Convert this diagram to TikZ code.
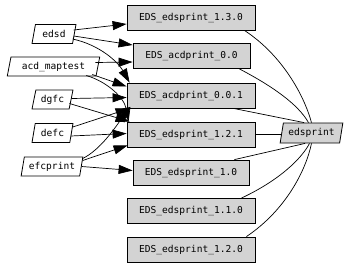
\documentclass[tikz,border=0pt]{standalone}
\usepackage{fontspec}
\setmonofont{DejaVu Sans Mono}
\usetikzlibrary{shapes.geometric,arrows.meta,calc}
\definecolor{boxgray}{RGB}{211,211,211}
\begin{document}
\begin{tikzpicture}[x=1bp,y=-1bp,
  every node/.style={font=\ttfamily\fontsize{9.6}{11}\selectfont, inner sep=0pt},
  pkg/.style={draw=black, fill=boxgray, line width=0.8bp, rectangle, minimum height=25bp},
  src/.style={draw=black, fill=white, line width=0.8bp, trapezium, trapezium left angle=74, trapezium right angle=106, trapezium stretches=true, minimum height=19bp},
  dep/.style={line width=0.7bp, -{Triangle[length=14bp,width=9bp]}},
  lnk/.style={line width=0.7bp}]
\useasboundingbox (0,0) rectangle (352,266);
% package boxes
\node[pkg, minimum width=128bp] (b1) at (191,17.5) {EDS\_edsprint\_1.3.0};
\node[pkg, minimum width=117bp] (b2) at (191.5,56) {EDS\_acdprint\_0.0};
\node[pkg, minimum width=128bp] (b3) at (191,95.5) {EDS\_acdprint\_0.0.1};
\node[pkg, minimum width=128bp] (b4) at (191,134.5) {EDS\_edsprint\_1.2.1};
\node[pkg, minimum width=116bp] (b5) at (191,172.5) {EDS\_edsprint\_1.0};
\node[pkg, minimum width=128bp] (b6) at (191,211) {EDS\_edsprint\_1.1.0};
\node[pkg, minimum width=128bp] (b7) at (191,249.5) {EDS\_edsprint\_1.2.0};
% sources
\node[src, minimum width=44bp] (edsd) at (54,34) {edsd};
\node[src, minimum width=93bp] (acd) at (53.5,66.5) {acd\_maptest};
\node[src, minimum width=41bp] (dgfc) at (52.5,99.5) {dgfc};
\node[src, minimum width=41bp] (defc) at (52.5,133) {defc};
\node[src, minimum width=62bp] (efc) at (52,166.5) {efcprint};
\node[src, fill=boxgray, minimum width=63bp, minimum height=20bp] (eds) at (311.5,133) {edsprint};
% dependencies
\draw[dep] ($(edsd.east)+(-1,-4)$) -- ($(b1.west)+(0,6.5)$);
\draw[dep] ($(edsd.east)+(-1,2)$) -- ($(b2.west)+(0,-11)$);
\draw[dep] ($(edsd.east)+(-2,5)$) .. controls (100,45) and (118,62) .. ($(b3.north west)+(3,0)$);
\draw[dep] ($(acd.east)+(-3,-4)$) -- ($(b2.west)+(0,6)$);
\draw[dep] ($(acd.east)+(-6,8)$) -- ($(b3.west)+(0,-9)$);
\draw[dep] ($(acd.east)+(-12,9)$) .. controls (108,82) and (124,98) .. ($(b4.north west)+(2,0)$);
\draw[dep] ($(dgfc.east)+(0,-1)$) -- ($(b3.west)+(0,2)$);
\draw[dep] ($(dgfc.east)+(-2,4)$) -- ($(b4.north west)+(3,0)$);
\draw[dep] ($(defc.east)+(1,-6)$) -- ($(b3.south west)+(3,0)$);
\draw[dep] ($(defc.east)+(-1,3)$) -- ($(b4.west)+(0,-1)$);
\draw[dep] ($(efc.east)+(1,-8)$) .. controls (100,150) and (115,128) .. ($(b3.south west)+(2,0)$);
\draw[dep] ($(efc.east)+(1,-6)$) -- ($(b4.south west)+(1,-2)$);
\draw[dep] ($(efc.east)+(0,0)$) -- ($(b5.west)+(0,-2)$);
% links to edsprint
\draw[lnk] ($(b1.south east)+(-11,0)$) .. controls (282,55) and (304,95) .. ($(eds.north)+(0,0)$);
\draw[lnk] ($(b2.south east)+(-11,0)$) .. controls (272,86) and (298,104) .. ($(eds.north)+(-3,0)$);
\draw[lnk] ($(b3.south east)+(-22,0)$) -- ($(eds.north west)+(3,0)$);
\draw[lnk] ($(b4.east)+(0,0)$) -- ($(eds.west)+(0,1.5)$);
\draw[lnk] ($(b5.north east)+(-15,0)$) -- ($(eds.south west)+(4,0)$);
\draw[lnk] ($(b6.north east)+(-14,0)$) .. controls (280,180) and (302,158) .. ($(eds.south)+(-2,0)$);
\draw[lnk] ($(b7.north east)+(-9,0)$) .. controls (286,210) and (306,170) .. ($(eds.south)+(0,0)$);
\end{tikzpicture}
\end{document}
